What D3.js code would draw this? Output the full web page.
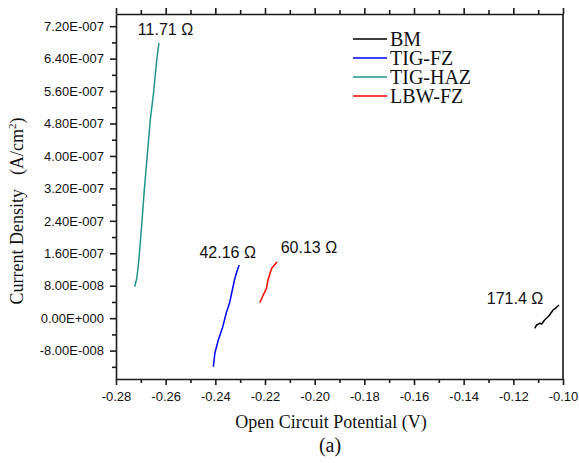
<!DOCTYPE html>
<html>
<head>
<meta charset="utf-8">
<script src="https://cdn.jsdelivr.net/npm/d3@7"></script>
<style>
  html, body { margin: 0; padding: 0; background: #fff; }
  svg { display: block; }
</style>
</head>
<body>
<svg id="chart" width="579" height="463"></svg>
<script>
// ---------------- data ----------------
const seriesNames = ["BM", "TIG-FZ", "TIG-HAZ", "LBW-FZ"];
const resistanceLabels = ["171.4 Ω", "42.16 Ω", "11.71 Ω", "60.13 Ω"];

const bmX  = [-0.1114, -0.1106, -0.1094, -0.1086, -0.1074, -0.1060, -0.1054, -0.1040, -0.1029, -0.1016];
const bmY  = [-2.50e-8, -1.68e-8, -1.27e-8, -1.44e-8, -0.45e-8, 0.36e-8, 0.78e-8, 2.01e-8, 2.50e-8, 3.25e-8];

const tigFzX = [-0.2408, -0.2402, -0.2388, -0.2370, -0.2355, -0.2343, -0.2323, -0.2314, -0.2304];
const tigFzY = [-1.197e-7, -0.866e-7, -0.538e-7, -0.210e-7, 0.152e-7, 0.367e-7, 0.941e-7, 1.138e-7, 1.311e-7];

const tigHazX = [-0.2725, -0.2716, -0.2708, -0.2697, -0.2686, -0.2673, -0.2662, -0.2649, -0.2636, -0.2627];
const tigHazY = [0.776e-7, 0.99e-7, 1.434e-7, 2.255e-7, 3.16e-7, 4.10e-7, 4.886e-7, 5.545e-7, 6.366e-7, 6.79e-7];

const lbwFzX = [-0.2221, -0.2207, -0.2194, -0.2188, -0.2173, -0.2151];
const lbwFzY = [0.381e-7, 0.571e-7, 0.736e-7, 0.941e-7, 1.229e-7, 1.392e-7];

const xTickValues = [-0.28, -0.26, -0.24, -0.22, -0.20, -0.18, -0.16, -0.14, -0.12, -0.10];
const xTickLabels = ["-0.28", "-0.26", "-0.24", "-0.22", "-0.20", "-0.18", "-0.16", "-0.14", "-0.12", "-0.10"];
const yTickValues = [-8e-8, 0, 8e-8, 1.6e-7, 2.4e-7, 3.2e-7, 4.0e-7, 4.8e-7, 5.6e-7, 6.4e-7, 7.2e-7];
const yTickLabels = ["-8.00E-008", "0.00E+000", "8.00E-008", "1.60E-007", "2.40E-007", "3.20E-007",
                     "4.00E-007", "4.80E-007", "5.60E-007", "6.40E-007", "7.20E-007"];
const xMinorValues = [-0.27, -0.25, -0.23, -0.21, -0.19, -0.17, -0.15, -0.13, -0.11];
const yMinorValues = [-1.2e-7, -4e-8, 4e-8, 1.2e-7, 2.0e-7, 2.8e-7, 3.6e-7, 4.4e-7, 5.2e-7, 6.0e-7, 6.8e-7];

const xTitle = "Open Circuit Potential (V)";
const yTitleA = "Current Density";
const yTitleB = "(A/cm";
const caption = "(a)";

// ---------------- layout / style ----------------
const colors = ["#000000", "#0000ff", "#1e968c", "#ff0000"];
const pLeft = 116, pTop = 14, pRight = 563, pBottom = 379;
const sans = "'Liberation Sans', Arial, sans-serif";
const serif = "'Liberation Serif', 'Times New Roman', serif";
// label offsets relative to the last point of each series (pixels)
const labelOffsets = [[-44, -1], [-11.5, -6.7], [6.5, -8], [31.7, -9]];

const svg = d3.select("#chart");
const x = d3.scaleLinear().domain([-0.28, -0.10]).range([pLeft, pRight]);
const y = d3.scaleLinear().domain([-1.5e-7, 7.5e-7]).range([pBottom, pTop]);

const axisColor = "#1a1a1a";

// minor ticks
svg.append("g").attr("transform", `translate(0,${pBottom})`)
  .call(d3.axisBottom(x).tickValues(xMinorValues).tickSize(4).tickFormat(""))
  .call(g => g.select(".domain").remove());
svg.append("g").attr("transform", `translate(0,${pTop})`)
  .call(d3.axisTop(x).tickValues(xMinorValues).tickSize(4).tickFormat(""))
  .call(g => g.select(".domain").remove());
svg.append("g").attr("transform", `translate(${pLeft},0)`)
  .call(d3.axisLeft(y).tickValues(yMinorValues).tickSize(4).tickFormat(""))
  .call(g => g.select(".domain").remove());

// major axes
const xAxis = svg.append("g").attr("transform", `translate(0,${pBottom})`)
  .call(d3.axisBottom(x).tickValues(xTickValues).tickSize(6).tickSizeOuter(0)
        .tickFormat((d, i) => xTickLabels[i]));
xAxis.selectAll("text").attr("dy", null).attr("y", 22)
  .style("font-family", sans).style("font-size", "13px").attr("fill", "#111");

svg.append("g").attr("transform", `translate(0,${pTop})`)
  .call(d3.axisTop(x).tickValues(xTickValues).tickSize(6).tickSizeOuter(0).tickFormat(""));

const yAxis = svg.append("g").attr("transform", `translate(${pLeft},0)`)
  .call(d3.axisLeft(y).tickValues(yTickValues).tickSize(6).tickSizeOuter(0)
        .tickFormat((d, i) => yTickLabels[i]));
yAxis.selectAll("text").attr("x", -12)
  .style("font-family", sans).style("font-size", "13px").attr("fill", "#111");

svg.append("line").attr("x1", pRight).attr("x2", pRight).attr("y1", pTop).attr("y2", pBottom);

svg.selectAll(".domain, .tick line, line").attr("stroke", axisColor).attr("stroke-width", 1.6);

// series
const xs = [bmX, tigFzX, tigHazX, lbwFzX];
const ys = [bmY, tigFzY, tigHazY, lbwFzY];
const line = d3.line().x(d => x(d[0])).y(d => y(d[1]));
seriesNames.forEach((name, i) => {
  const pts = xs[i].map((v, j) => [v, ys[i][j]]);
  svg.append("path").datum(pts).attr("d", line)
    .attr("fill", "none").attr("stroke", colors[i]).attr("stroke-width", 1.5)
    .attr("stroke-linejoin", "round");
  const last = pts[pts.length - 1];
  svg.append("text")
    .attr("x", x(last[0]) + labelOffsets[i][0])
    .attr("y", y(last[1]) + labelOffsets[i][1])
    .attr("text-anchor", "middle")
    .style("font-family", sans).style("font-size", "16px").attr("fill", "#111")
    .text(resistanceLabels[i]);
});

// legend
const legend = svg.append("g");
seriesNames.forEach((name, i) => {
  const ly = 39 + i * 19;
  legend.append("line").attr("x1", 353).attr("x2", 387).attr("y1", ly).attr("y2", ly)
    .attr("stroke", colors[i]).attr("stroke-width", 1.5);
  legend.append("text").attr("x", 390).attr("y", ly + 7)
    .style("font-family", serif).style("font-size", "20px").attr("fill", "#111")
    .text(name);
});

// titles
svg.append("text").attr("x", 331).attr("y", 428)
  .attr("text-anchor", "middle")
  .style("font-family", serif).style("font-size", "18px").attr("fill", "#111")
  .text(xTitle);

const yt = svg.append("text")
  .attr("transform", "translate(23,211) rotate(-90)")
  .attr("text-anchor", "middle")
  .style("font-family", serif).style("font-size", "18px").attr("fill", "#111");
yt.append("tspan").text(yTitleA);
yt.append("tspan").attr("dx", 14).text(yTitleB);
yt.append("tspan").attr("dy", -7).style("font-size", "11px").text("2");
yt.append("tspan").attr("dy", 7).text(")");

svg.append("text").attr("x", 330).attr("y", 452)
  .attr("text-anchor", "middle")
  .style("font-family", serif).style("font-size", "20px").attr("fill", "#111")
  .text(caption);
</script>
</body>
</html>
